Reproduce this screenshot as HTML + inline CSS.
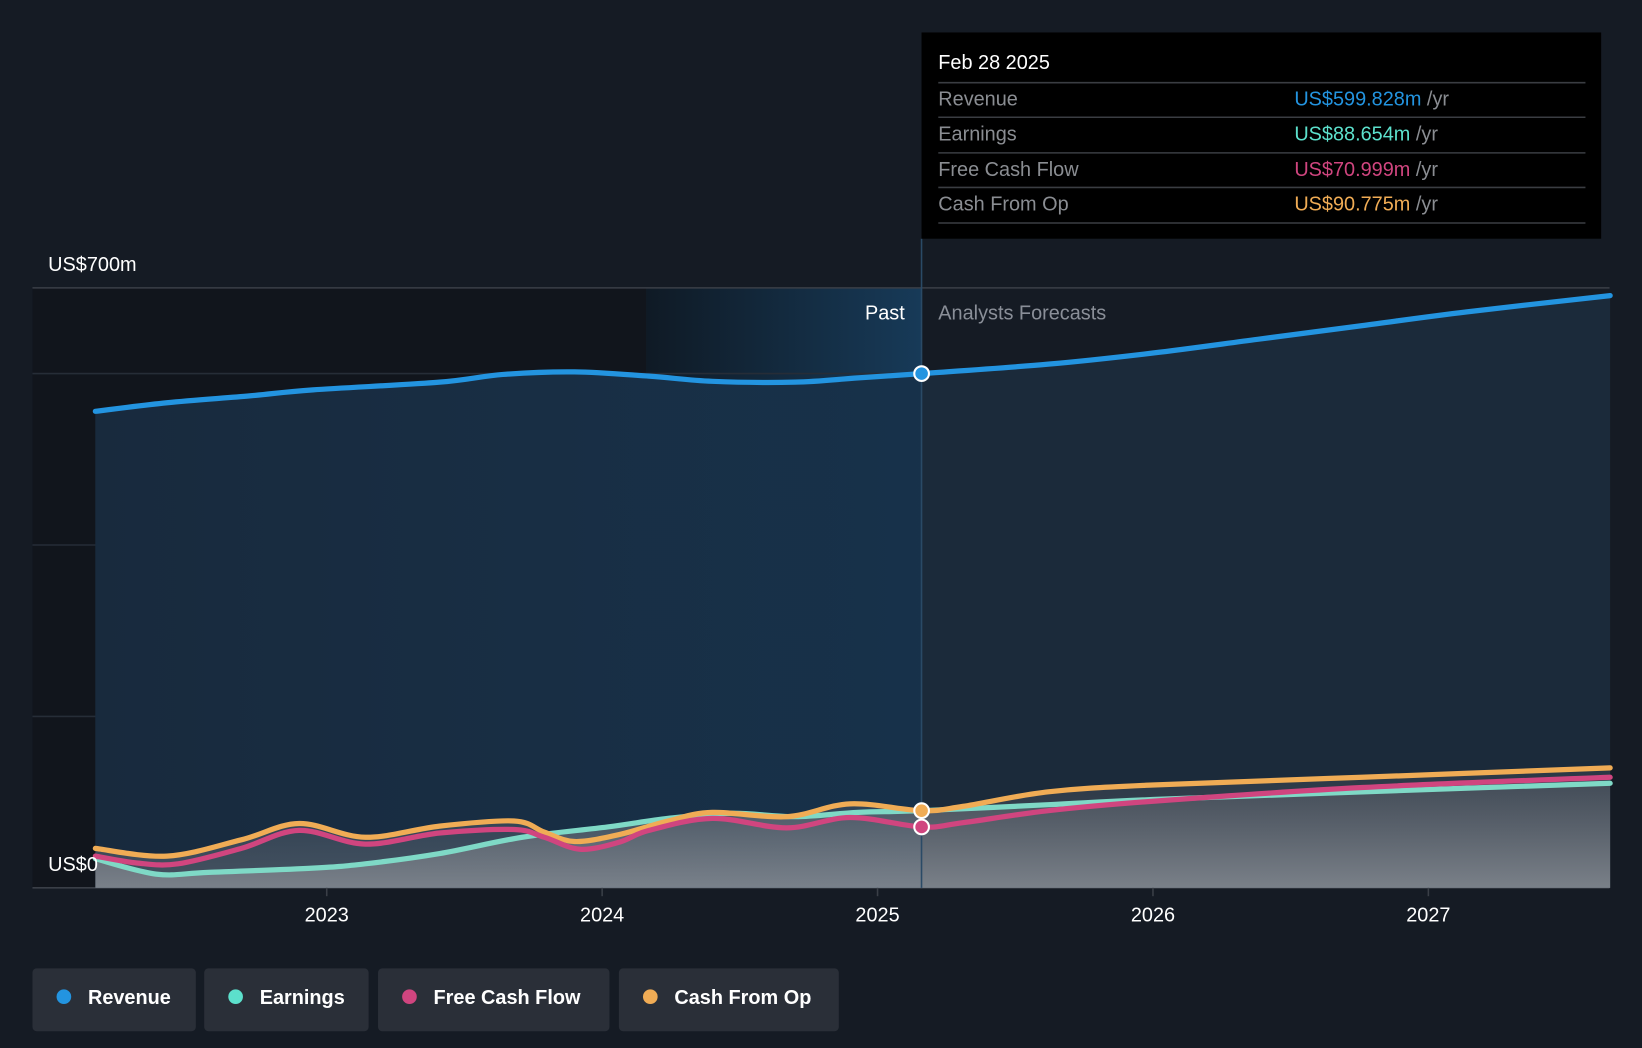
<!DOCTYPE html>
<html><head><meta charset="utf-8"><style>
html,body{margin:0;padding:0;background:#151b24;}
svg{display:block;font-family:"Liberation Sans",sans-serif;}
</style></head><body>
<svg id="chart" width="1642" height="1048" viewBox="0 0 1568 1001" preserveAspectRatio="none">
<defs>
<linearGradient id="pastBand" x1="0" x2="1" y1="0" y2="0"><stop offset="0" stop-color="#0f1a25"/><stop offset="1" stop-color="#173a58"/></linearGradient>
<linearGradient id="revPast" x1="0" x2="1" y1="0" y2="0"><stop offset="0" stop-color="#182a3d"/><stop offset="0.67" stop-color="#17334d"/><stop offset="1" stop-color="#164262"/></linearGradient>
<linearGradient id="grayFill" x1="0" x2="0" y1="0" y2="1"><stop offset="0" stop-color="#6b6f76" stop-opacity="0.35"/><stop offset="1" stop-color="#8a8f96" stop-opacity="0.75"/></linearGradient>
</defs>
<rect width="1568" height="1001" fill="#151b24"/>
<rect x="31" y="275" width="586" height="573" fill="#11151c"/>
<rect x="617" y="275" width="263" height="573" fill="url(#pastBand)"/>
<g id="grid"></g>
<g id="areas"></g>
<g id="lines"></g>
<line x1="880" y1="228" x2="880" y2="848" stroke="#2a4a66" stroke-width="1.5"/>
<text x="864" y="305" fill="#ffffff" font-size="19" text-anchor="end">Past</text>
<text x="896" y="305" fill="#8a8f98" font-size="19">Analysts Forecasts</text>
<text x="46" y="259" fill="#ffffff" font-size="19">US$700m</text>
<text x="46" y="832" fill="#ffffff" font-size="19">US$0</text>
<g id="xticks"></g>
<g id="dots"></g>
<g>
<rect x="880" y="31" width="649" height="197" fill="#000000"/>
<text x="896" y="66" fill="#ffffff" font-size="19">Feb 28 2025</text>
<g stroke="#3a3d42" stroke-width="1.5">
<line x1="896" y1="79" x2="1514" y2="79"/><line x1="896" y1="112" x2="1514" y2="112"/><line x1="896" y1="146" x2="1514" y2="146"/><line x1="896" y1="179" x2="1514" y2="179"/><line x1="896" y1="213" x2="1514" y2="213"/></g>
<g font-size="19" fill="#8a8d92">
<text x="896" y="101">Revenue</text><text x="896" y="134">Earnings</text><text x="896" y="168">Free Cash Flow</text><text x="896" y="201">Cash From Op</text></g>
<g font-size="19">
<text x="1236" y="101"><tspan fill="#2394e0">US$599.828m</tspan><tspan fill="#8a8d92"> /yr</tspan></text>
<text x="1236" y="134"><tspan fill="#5ce0cc">US$88.654m</tspan><tspan fill="#8a8d92"> /yr</tspan></text>
<text x="1236" y="168"><tspan fill="#d0457f">US$70.999m</tspan><tspan fill="#8a8d92"> /yr</tspan></text>
<text x="1236" y="201"><tspan fill="#f0ac55">US$90.775m</tspan><tspan fill="#8a8d92"> /yr</tspan></text>
</g></g>
<g font-size="19" fill="#ffffff" font-weight="bold">
<g><rect x="31" y="925" width="156" height="60" rx="4" fill="#2a2f38"/><circle cx="61" cy="952" r="7" fill="#2394e0"/><text x="84" y="959">Revenue</text></g>
<g><rect x="195" y="925" width="157" height="60" rx="4" fill="#2a2f38"/><circle cx="225" cy="952" r="7" fill="#5ce0cc"/><text x="248" y="959">Earnings</text></g>
<g><rect x="361" y="925" width="221" height="60" rx="4" fill="#2a2f38"/><circle cx="391" cy="952" r="7" fill="#d0457f"/><text x="414" y="959">Free Cash Flow</text></g>
<g><rect x="591" y="925" width="210" height="60" rx="4" fill="#2a2f38"/><circle cx="621" cy="952" r="7" fill="#f0ac55"/><text x="644" y="959">Cash From Op</text></g>
</g>
</svg>
<script>
const revT=[2022.16,2022.42,2022.72,2022.95,2023.41,2023.64,2023.9,2024.17,2024.4,2024.7,2024.93,2025.16,2025.62,2026.0,2026.38,2026.76,2027.14,2027.66];
const revV=[556,566,574,581,590,599,602,597,591,590,595,600,611,624,640,656,672,691];
const earnT=[2022.16,2022.38,2022.57,2022.95,2023.14,2023.41,2023.71,2024.02,2024.24,2024.47,2024.7,2024.93,2025.16,2025.62,2026.0,2026.76,2027.66];
const earnV=[34,16,18,23,28,40,59,71,81,87,83,88,90,97,103,112,122];
const fcfT=[2022.16,2022.31,2022.46,2022.69,2022.9,2023.14,2023.41,2023.68,2023.79,2023.92,2024.06,2024.17,2024.4,2024.67,2024.9,2025.16,2025.31,2025.62,2026.0,2026.76,2027.66];
const fcfV=[37,29,28,46,67,51,64,68,59,45,53,67,81,70,82,71,76,90,101,117,129];
const cfoT=[2022.16,2022.42,2022.69,2022.9,2023.14,2023.41,2023.68,2023.79,2023.9,2024.06,2024.24,2024.4,2024.67,2024.9,2025.16,2025.31,2025.62,2026.0,2026.76,2027.66];
const cfoV=[46,37,56,75,59,72,78,65,54,62,78,88,83,98,90,95,112,120,129,140];
const gridVals=[0,200,400,600,700];
const xTickLabels=[2023,2024,2025,2026,2027];
const NOW=2025.16;

const X=t=>312+(t-2023)*263;
const Y=v=>848-v*0.8186;
const NS="http://www.w3.org/2000/svg";
function mk(tag,attrs,parent){const e=document.createElementNS(NS,tag);for(const k in attrs)e.setAttribute(k,attrs[k]);parent.appendChild(e);return e;}
function pts(T,V){return T.map((t,i)=>[X(t),Y(V[i])]);}
function smooth(p){let d=`M${p[0][0]},${p[0][1]}`;for(let i=0;i<p.length-1;i++){const p0=p[i-1]||p[i],p1=p[i],p2=p[i+1],p3=p[i+2]||p2;
d+=` C${p1[0]+(p2[0]-p0[0])/6},${p1[1]+(p2[1]-p0[1])/6} ${p2[0]-(p3[0]-p1[0])/6},${p2[1]-(p3[1]-p1[1])/6} ${p2[0]},${p2[1]}`;}return d;}
function interp(T,V,t){for(let i=0;i<T.length-1;i++){if(t>=T[i]&&t<=T[i+1]){return V[i]+(V[i+1]-V[i])*(t-T[i])/(T[i+1]-T[i]);}}return V[V.length-1];}

const grid=document.getElementById('grid');
gridVals.forEach(v=>{const l=mk('line',{x1:31,x2:1537,y1:Y(v),y2:Y(v),stroke:v===0||v===700?'#3a3f47':'#262d37','stroke-width':1.5},grid);

});

const xt=document.getElementById('xticks');
xTickLabels.forEach(y=>{const l=mk('line',{x1:X(y),x2:X(y),y1:848,y2:856,stroke:'#3a3f47','stroke-width':1.5},xt);


const tx=mk('text',{x:X(y),y:880,fill:'#ffffff','font-size':19,'text-anchor':'middle'},xt);tx.textContent=y;

});

const areas=document.getElementById('areas');
const rp=pts(revT,revV);const rd=smooth(rp);
const ra=mk('path',{d:rd+` L${X(revT[revT.length-1])},848 L${X(revT[0])},848 Z`,fill:'#1b2a3a'},areas);


const cp=mk('clipPath',{id:'pastClip'},areas);mk('rect',{x:0,y:0,width:X(NOW),height:1001},cp);
const rpa=mk('path',{d:rd+` L${X(revT[revT.length-1])},848 L${X(revT[0])},848 Z`,fill:'url(#revPast)','clip-path':'url(#pastClip)'},areas);


const ep=pts(cfoT,cfoV);const ea=mk('path',{d:smooth(ep)+` L${X(cfoT[cfoT.length-1])},848 L${X(cfoT[0])},848 Z`,fill:'url(#grayFill)',opacity:0.55},areas);


const ep2=pts(earnT,earnV);const ea2=mk('path',{d:smooth(ep2)+` L${X(earnT[earnT.length-1])},848 L${X(earnT[0])},848 Z`,fill:'url(#grayFill)'},areas);



const lines=document.getElementById('lines');
[['earnings-line',earnT,earnV,'#7fd9c6'],['cash-from-op-line',cfoT,cfoV,'#f0ac55'],['free-cash-flow-line',fcfT,fcfV,'#d0457f'],['revenue-line',revT,revV,'#2394e0']].forEach(([n,T,V,c])=>{
const p=mk('path',{d:smooth(pts(T,V)),fill:'none',stroke:c,'stroke-width':5,'stroke-linecap':'round'},lines);

});

const dots=document.getElementById('dots');
[['revenue-dot',revT,revV,'#2394e0'],['cash-from-op-dot',cfoT,cfoV,'#f0ac55'],['free-cash-flow-dot',fcfT,fcfV,'#d0457f']].forEach(([n,T,V,c])=>{
const d=mk('circle',{cx:X(NOW),cy:Y(interp(T,V,NOW)),r:7,fill:c,stroke:'#ffffff','stroke-width':2},dots);

});
</script>
</body></html>
